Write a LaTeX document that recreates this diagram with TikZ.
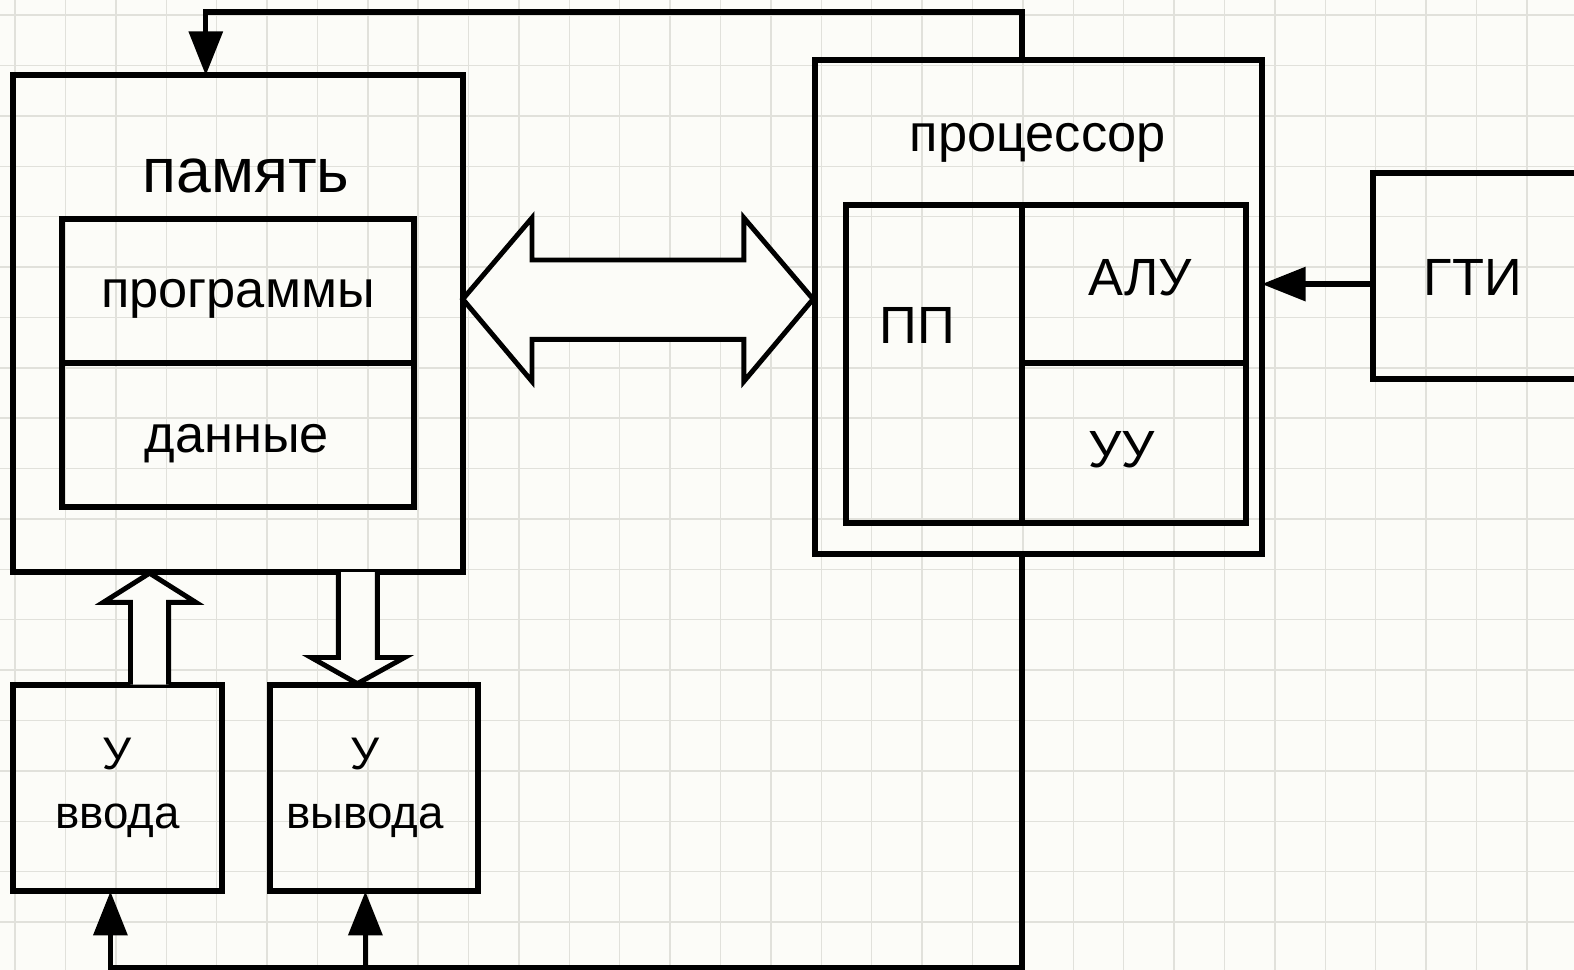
\documentclass[tikz,border=0pt]{standalone}
\usepackage{fontspec}
\setmainfont{Liberation Sans}
\usetikzlibrary{arrows.meta,fit}
\definecolor{paper}{HTML}{FCFCF8}
\definecolor{gridgray}{HTML}{E1E1DB}
\tikzset{
  box/.style={draw=black, line width=3.4pt, inner sep=0pt},
  wire/.style={draw=black, line width=3.0pt},
  conn/.style={wire, -{Triangle[length=25pt,width=19pt]}},
  fat/.style={draw=black, line width=2.8pt, fill=paper, line join=miter},
  gridline/.style={draw=gridgray, line width=0.8pt},
  lbl/.style={anchor=base, inner sep=0pt, font=\fontsize{29.8pt}{34pt}\selectfont},
  biglbl/.style={lbl, font=\fontsize{35.6pt}{40pt}\selectfont},
  devlbl/.style={lbl, align=center, font=\fontsize{26pt}{33.4pt}\selectfont},
}
\begin{document}
\begin{tikzpicture}[x=0.020077cm, y=-0.020077cm]
  % page and background grid
  \useasboundingbox (0,0) rectangle (1568,966);
  \clip (0,0) rectangle (1568,966);
  \fill[paper] (0,0) rectangle (1568,966);
  \foreach \i in {0,...,31} {
    \draw[gridline] ({15+50.2*\i},0) -- ({15+50.2*\i},966);
  }
  \foreach \i in {0,...,19} {
    \draw[gridline] (0,{15+50.2*\i}) -- (1568,{15+50.2*\i});
  }

  % corner points of the boxes
  \coordinate (memA) at (13,75);    \coordinate (memB) at (461,570);
  \coordinate (progA) at (62,218);  \coordinate (progB) at (412,362);
  \coordinate (dataA) at (62,362);  \coordinate (dataB) at (412,505);
  \coordinate (procA) at (812,60);  \coordinate (procB) at (1257,552);
  \coordinate (ppA) at (843,204);   \coordinate (ppB) at (1018,521);
  \coordinate (aluA) at (1018,204); \coordinate (aluB) at (1241,362);
  \coordinate (uuA) at (1018,362);  \coordinate (uuB) at (1241,521);
  \coordinate (gtiA) at (1368,172); \coordinate (gtiB) at (1640,378);
  \coordinate (inpA) at (13,682);   \coordinate (inpB) at (221,888);
  \coordinate (outA) at (269,682);  \coordinate (outB) at (476,888);

  % memory
  \node[box, fit=(memA)(memB)] (mem) {};
  \node[biglbl] (memt) at (245,192) {память};
  \node[box, fit=(progA)(progB)] (prog) {};
  \node[box, fit=(dataA)(dataB)] (data) {};
  \node[lbl] (progt) at (237,306) {программы};
  \node[lbl] (datat) at (236,451) {данные};

  % processor
  \node[box, fit=(procA)(procB)] (proc) {};
  \node[lbl] (proct) at (1034,151) {процессор};
  \node[box, fit=(ppA)(ppB)] (pp) {};
  \node[box, fit=(aluA)(aluB)] (alu) {};
  \node[box, fit=(uuA)(uuB)] (uu) {};
  \node[lbl] (ppt) at (914,342) {ПП};
  \node[lbl] (alut) at (1136,294) {АЛУ};
  \node[lbl] (uut) at (1117,466) {УУ};

  % clock generator
  \node[box, fit=(gtiA)(gtiB)] (gti) {};
  \node[lbl] (gtit) at (1467,294) {ГТИ};

  % input and output devices
  \node[box, fit=(inpA)(inpB)] (inp) {};
  \node[box, fit=(outA)(outB)] (outp) {};
  \node[devlbl] (inpt) at (117,825) {У\\ввода};
  \node[devlbl] (outpt) at (364,825) {У\\вывода};

  % connection points on the box edges
  \coordinate (procup) at (1018,60);
  \coordinate (procdown) at (1018,552);
  \coordinate (memin) at (205,75);
  \coordinate (inpin) at (110,888);
  \coordinate (outin) at (364,888);
  \coordinate (bus) at (1018,964);
  \coordinate (gtiout) at (1368,283);
  \coordinate (procclk) at (1257,283);

  % control lines
  \draw[conn] (procup) -- (1018,12) -| (memin);
  \draw[conn] (procdown) -- (bus) -| (inpin);
  \draw[conn] (outin |- bus) -- (outin);
  \draw[conn] (gtiout) -- (procclk);

  % data bus between memory and processor
  \draw[fat] (461,298) -- (530,217) -- (530,259) -- (741,259) -- (741,217)
    -- (810,298) -- (741,380) -- (741,338) -- (530,338) -- (530,380) -- cycle;

  % data from the input device into memory
  \draw[fat] (130,682) -- (130,600) -- (103,600) -- (149,571) -- (195,600)
    -- (168,600) -- (168,682);
  % data from memory to the output device
  \draw[fat] (337,570) -- (337,655) -- (310,655) -- (356,681) -- (403,655)
    -- (376,655) -- (376,570);
\end{tikzpicture}
\end{document}
